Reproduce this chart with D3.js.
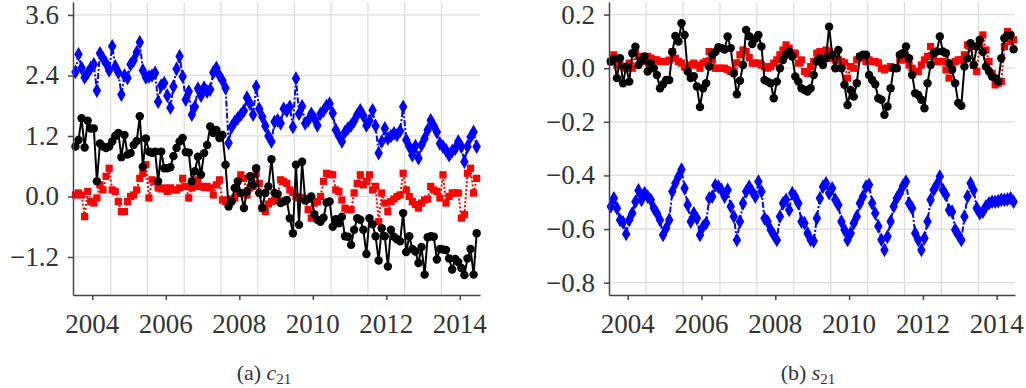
<!DOCTYPE html>
<html>
<head>
<meta charset="utf-8">
<script src="https://cdn.jsdelivr.net/npm/d3@7"></script>
<style>
  body { margin: 0; background: #fff; }
  svg text { font-family: "Liberation Serif", "DejaVu Serif", serif; fill: #333; }
</style>
</head>
<body>
<svg id="chart" width="1026" height="388"></svg>
<script>
// monthly samples, July 2003 .. June 2014
var startYear = 2003, startMonth = 7, nMonths = 132;
var xTickYears = [2004, 2006, 2008, 2010, 2012, 2014];
var gridYears = [2004.5, 2005.5, 2006.5, 2007.5, 2008.5, 2009.5, 2010.5, 2011.5, 2012.5, 2013.5];

// (a) c21
var c21Ticks = [-1.2, 0.0, 1.2, 2.4, 3.6];
var c21Black = [0.99,1.12,1.55,0.97,1.50,1.35,1.35,0.30,1.05,0.99,0.96,0.99,1.09,1.20,1.26,0.78,1.22,0.83,0.86,1.02,
  1.10,1.59,0.59,1.15,0.89,0.86,0.89,0.30,0.89,0.56,0.56,0.58,0.80,0.96,1.09,1.16,0.88,0.87,0.30,0.50,
  0.79,0.43,0.86,1.02,1.39,1.26,1.32,1.16,1.22,0.63,-0.20,-0.10,0.17,0.30,0.07,-0.23,0.10,0.40,0.23,0.56,
  0.07,-0.23,0.07,0.20,0.74,0.07,0.05,-0.13,-0.10,-0.07,-0.43,-0.73,0.63,-0.56,0.69,-0.08,-0.05,0.00,-0.35,-0.46,
  -0.50,-0.42,-0.12,-0.10,-0.60,-0.45,-0.53,-0.40,-0.79,-0.80,-0.96,-0.66,-0.43,-0.46,-0.66,-1.14,-0.43,-0.55,-0.79,-1.27,
  -0.63,-0.79,-1.39,-0.66,-0.80,-0.85,-0.89,-0.33,-1.10,-0.79,-1.04,-1.09,-1.32,-1.00,-1.55,-0.81,-0.79,-0.80,-1.25,-1.04,
  -1.05,-1.06,-1.23,-1.45,-1.24,-1.30,-1.42,-1.56,-1.23,-1.04,-1.55,-0.73];
var c21Red = [0.03,0.07,0.03,-0.40,0.10,-0.10,-0.13,-0.03,0.23,0.13,0.40,0.56,0.13,0.10,-0.10,-0.30,-0.30,-0.10,0.00,0.03,
  0.13,0.36,0.46,0.63,-0.03,0.33,0.30,0.17,0.15,0.17,0.10,0.17,0.13,0.13,0.17,0.36,0.20,-0.03,0.17,0.20,
  0.33,0.20,0.18,0.20,0.17,0.03,0.23,0.33,-0.07,-0.10,-0.07,-0.05,-0.03,0.07,0.43,0.36,0.03,0.17,0.20,0.46,
  0.26,-0.23,-0.30,-0.15,-0.10,-0.08,0.03,0.33,0.30,0.26,0.13,0.08,0.00,-0.03,-0.02,-0.05,-0.26,-0.43,-0.13,-0.10,
  0.00,0.30,0.46,0.44,0.43,0.13,0.10,-0.07,-0.23,-0.26,-0.26,0.07,0.26,0.43,0.23,0.30,0.43,0.13,0.20,-0.50,
  0.07,-0.13,-0.30,-0.10,-0.05,0.00,0.03,0.46,0.13,0.00,-0.10,-0.16,-0.23,-0.13,-0.07,-0.05,0.20,0.13,0.10,-0.03,
  0.43,-0.13,0.00,0.07,0.07,0.07,-0.43,-0.36,0.46,0.56,0.07,0.36];
var c21Blue = [2.47,2.82,2.55,2.36,2.45,2.55,2.62,2.10,2.84,2.74,2.64,2.50,2.98,2.58,2.46,2.02,2.40,2.35,2.62,2.70,
  2.86,3.06,2.50,2.36,2.38,2.40,2.45,1.88,2.20,2.25,2.00,1.76,2.18,2.53,2.78,2.38,1.92,2.08,1.62,1.78,
  2.14,2.00,2.16,2.08,2.12,2.46,2.55,2.40,2.30,2.15,1.06,1.38,1.48,1.55,1.62,1.70,1.96,1.84,1.62,2.18,
  1.74,1.58,1.40,1.20,1.09,1.48,1.51,1.45,1.74,1.70,1.78,1.38,2.34,1.64,1.79,1.45,1.51,1.64,1.55,1.41,
  1.64,1.70,1.80,1.84,1.65,1.32,1.20,1.09,1.28,1.35,1.41,1.50,1.62,1.71,1.60,1.41,1.50,1.71,1.40,0.86,
  1.09,1.35,1.15,1.20,1.25,1.22,1.30,1.78,1.12,0.99,0.82,1.00,0.76,1.02,1.15,1.32,1.51,1.40,1.28,1.05,
  0.99,0.92,0.82,0.90,0.95,1.09,0.99,0.69,0.99,1.18,1.28,0.99];

// (b) s21
var s21Ticks = [-0.8, -0.6, -0.4, -0.2, 0.0, 0.2];
var s21Black = [0.025,0.035,-0.037,0.037,-0.056,0.006,-0.050,0.056,0.080,0.012,0.030,0.044,-0.012,0.019,0.000,-0.025,-0.075,-0.060,-0.044,-0.044,
  0.060,0.120,0.100,0.168,0.124,-0.012,-0.037,-0.030,-0.068,-0.145,-0.075,-0.056,0.006,0.050,0.060,0.078,0.075,0.070,0.118,0.075,
  -0.019,-0.097,-0.047,0.012,0.143,0.119,0.090,0.110,0.124,0.081,-0.044,-0.050,-0.056,-0.112,-0.050,0.000,0.031,0.050,0.062,0.044,
  -0.031,-0.050,-0.075,-0.081,-0.087,-0.075,-0.025,0.025,0.037,0.012,0.037,0.155,0.050,0.000,0.068,0.000,-0.062,-0.137,-0.081,-0.106,
  -0.056,0.044,0.050,0.050,-0.025,-0.044,-0.060,-0.112,-0.118,-0.174,-0.143,-0.075,0.000,0.000,0.050,0.056,0.081,0.037,-0.025,-0.093,
  -0.100,-0.118,-0.149,-0.056,0.012,0.056,0.062,0.118,0.062,0.056,0.019,-0.006,-0.056,-0.130,-0.140,0.006,0.037,0.093,0.012,0.081,
  0.106,0.060,0.006,-0.012,-0.031,-0.037,-0.050,0.037,0.112,0.124,0.125,0.071];
var s21Red = [0.025,0.050,0.012,0.012,0.006,0.000,0.019,0.000,0.056,0.044,0.031,0.025,0.044,0.038,0.031,0.031,0.025,0.025,0.025,0.030,
  0.062,0.037,0.025,0.019,0.005,-0.006,0.012,0.019,0.012,0.000,0.019,0.025,0.062,0.031,0.000,0.000,0.000,0.000,-0.006,-0.012,
  -0.012,0.020,0.050,0.068,0.062,0.040,0.019,0.019,0.019,0.012,0.006,0.000,0.006,0.019,0.031,0.050,0.068,0.087,0.075,0.056,
  0.056,0.019,0.031,-0.012,-0.019,0.006,0.025,0.056,0.062,0.062,0.068,0.062,0.037,0.031,0.031,0.025,0.020,-0.037,0.006,0.000,
  0.031,0.044,0.037,0.025,0.031,0.025,0.025,0.020,0.000,-0.006,0.000,0.006,0.000,0.000,0.031,0.031,0.037,0.012,0.000,-0.012,
  -0.012,0.012,0.031,0.044,0.081,0.050,0.025,0.025,0.025,-0.006,-0.037,0.012,0.025,0.031,0.031,0.050,0.087,0.081,0.012,-0.012,
  0.093,0.124,0.068,0.025,-0.019,-0.062,-0.056,-0.050,0.081,0.137,0.100,0.106];
var s21Blue = [-0.516,-0.485,-0.522,-0.566,-0.575,-0.618,-0.566,-0.541,-0.498,-0.456,-0.491,-0.466,-0.479,-0.491,-0.522,-0.541,-0.566,-0.622,-0.597,-0.566,
  -0.460,-0.429,-0.404,-0.378,-0.448,-0.510,-0.572,-0.541,-0.560,-0.622,-0.591,-0.578,-0.485,-0.479,-0.437,-0.442,-0.454,-0.479,-0.454,-0.516,
  -0.553,-0.641,-0.572,-0.504,-0.460,-0.442,-0.460,-0.479,-0.423,-0.460,-0.560,-0.572,-0.603,-0.622,-0.641,-0.553,-0.504,-0.491,-0.529,-0.466,
  -0.480,-0.504,-0.572,-0.578,-0.616,-0.641,-0.645,-0.560,-0.485,-0.442,-0.429,-0.466,-0.448,-0.491,-0.510,-0.572,-0.603,-0.641,-0.616,-0.578,
  -0.553,-0.504,-0.479,-0.442,-0.435,-0.504,-0.541,-0.590,-0.640,-0.678,-0.628,-0.572,-0.516,-0.485,-0.466,-0.440,-0.423,-0.504,-0.522,-0.616,
  -0.641,-0.678,-0.634,-0.572,-0.491,-0.454,-0.435,-0.404,-0.454,-0.473,-0.529,-0.535,-0.603,-0.622,-0.641,-0.553,-0.479,-0.429,-0.454,-0.522,
  -0.541,-0.535,-0.515,-0.504,-0.498,-0.498,-0.496,-0.491,-0.491,-0.489,-0.485,-0.498];

// decimal year for the middle of each month
var dates = d3.range(nMonths).map(function (i) {
  return startYear + (startMonth - 1 + i + 0.5) / 12;
});

var svg = d3.select("svg#chart");
var serif = "'Liberation Serif', 'DejaVu Serif', serif";

function drawPanel(p) {
  var x = d3.scaleLinear().domain(p.xDomain).range([p.left, p.right]);
  var y = d3.scaleLinear().domain(p.yDomain).range([p.bottom, p.top]);
  var g = svg.append("g");

  // grid
  g.append("g").selectAll("line")
    .data(gridYears)
    .enter().append("line")
    .attr("x1", function (d) { return x(d); })
    .attr("x2", function (d) { return x(d); })
    .attr("y1", p.top).attr("y2", p.bottom)
    .attr("stroke", "#dcdcdc").attr("stroke-width", 1.2);
  g.append("g").selectAll("line")
    .data(p.yTicks)
    .enter().append("line")
    .attr("x1", p.left).attr("x2", p.right)
    .attr("y1", function (d) { return y(d); })
    .attr("y2", function (d) { return y(d); })
    .attr("stroke", "#dcdcdc").attr("stroke-width", 1.2);

  // the three series: black solid, red dotted, blue dash-dot
  var series = [
    { values: p.red, color: "#ff0000", dash: "2,2", shape: "square", size: 52 },
    { values: p.black, color: "#000", dash: null, shape: "circle", size: 56 },
    { values: p.blue, color: "#0000ff", dash: "6,2,2,2", shape: "diamond", size: 62 }
  ];
  var line = d3.line()
    .x(function (d, i) { return x(dates[i]); })
    .y(function (d) { return y(d); });

  series.forEach(function (s) {
    g.append("path")
      .datum(s.values)
      .attr("fill", "none")
      .attr("stroke", s.color)
      .attr("stroke-width", 2)
      .attr("stroke-dasharray", s.dash)
      .attr("d", line);
    var sym = s.shape === "circle" ? d3.symbolCircle :
      s.shape === "square" ? d3.symbolSquare : d3.symbolDiamond;
    g.append("g").selectAll("path")
      .data(s.values)
      .enter().append("path")
      .attr("d", d3.symbol().type(sym).size(s.size))
      .attr("fill", s.color)
      .attr("transform", function (d, i) {
        return "translate(" + x(dates[i]) + "," + y(d) + ")";
      });
  });

  // axes: lines only, labels drawn below as plain text
  g.append("g")
    .attr("transform", "translate(0," + p.bottom + ")")
    .call(d3.axisBottom(x).tickValues(xTickYears).tickFormat("")
      .tickSize(5).tickSizeOuter(0))
    .selectAll("path, line").attr("stroke", "#444").attr("stroke-width", 1.5);
  g.append("g")
    .attr("transform", "translate(" + p.left + ",0)")
    .call(d3.axisLeft(y).tickValues(p.yTicks).tickFormat("")
      .tickSize(5).tickSizeOuter(0))
    .selectAll("path, line").attr("stroke", "#444").attr("stroke-width", 1.5);

  // tick labels
  var fmtY = d3.format(".1f");
  g.append("g").selectAll("text")
    .data(xTickYears)
    .enter().append("text")
    .attr("x", function (d) { return x(d); })
    .attr("y", p.bottom + 38)
    .attr("text-anchor", "middle")
    .style("font-size", "27px")
    .text(function (d) { return d; });
  g.append("g").selectAll("text")
    .data(p.yTicks)
    .enter().append("text")
    .attr("x", p.left - 14)
    .attr("y", function (d) { return y(d) + 9; })
    .attr("text-anchor", "end")
    .style("font-size", "27px")
    .text(function (d) { return fmtY(d); });

  // caption
  var cap = svg.append("text")
    .attr("x", p.captionX).attr("y", 380)
    .attr("text-anchor", "middle")
    .style("font-size", "22px");
  cap.append("tspan").text(p.captionTag + " ");
  cap.append("tspan").style("font-style", "italic").text(p.captionVar);
  cap.append("tspan").style("font-size", "15px").attr("dy", 4).text("21");
}

drawPanel({
  left: 73, right: 480, top: 2, bottom: 295,
  xDomain: [2003.475, 2014.549], yDomain: [-1.954, 3.857],
  yTicks: c21Ticks, black: c21Black, red: c21Red, blue: c21Blue,
  captionX: 264, captionTag: "(a)", captionVar: "c"
});
drawPanel({
  left: 609, right: 1015, top: 2, bottom: 295,
  xDomain: [2003.493, 2014.496], yDomain: [-0.846, 0.247],
  yTicks: s21Ticks, black: s21Black, red: s21Red, blue: s21Blue,
  captionX: 808, captionTag: "(b)", captionVar: "s"
});
</script>
</body>
</html>
